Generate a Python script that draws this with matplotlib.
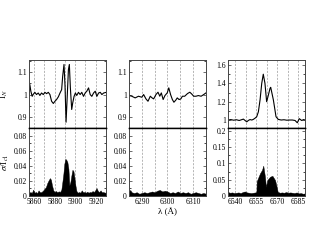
import matplotlib
matplotlib.use("Agg")
import matplotlib.pyplot as plt
from matplotlib.ticker import MultipleLocator, FuncFormatter

plt.rcParams['font.family'] = ['Liberation Serif', 'DejaVu Serif']
plt.rcParams['mathtext.fontset'] = 'stix'

# ---------------- data ----------------
# Panel 1 (Na D region)
wl1_top = [5855.1, 5855.8, 5856.8, 5858.1, 5859.0, 5860.7, 5862.3, 5864.0, 5865.6, 5867.2,
           5868.9, 5870.5, 5872.1, 5873.8, 5875.4, 5877.0, 5878.7, 5880.3, 5881.9, 5883.6,
           5885.2, 5886.8, 5887.8, 5889.1, 5890.1, 5891.1, 5892.1, 5893.4, 5894.3, 5895.3,
           5896.6, 5897.6, 5898.9, 5900.2, 5901.5, 5903.2, 5904.8, 5906.4, 5908.1, 5909.7,
           5911.3, 5913.0, 5914.6, 5916.2, 5917.9, 5919.5, 5921.1, 5922.8, 5924.4, 5926.0,
           5927.7, 5930.3]
in1 = [0.992, 1.045, 1.015, 0.992, 1.000, 1.010, 1.000, 1.007, 0.996, 1.007,
       1.000, 1.010, 1.004, 1.010, 1.000, 0.970, 0.960, 0.970, 0.978, 0.990,
       1.007, 1.022, 1.082, 1.135, 1.037, 0.876, 0.978, 1.112, 1.135, 1.030,
       0.933, 0.963, 0.992, 1.007, 0.996, 1.010, 1.000, 1.010, 0.992, 1.007,
       1.015, 1.030, 1.000, 0.992, 1.007, 1.015, 0.992, 1.007, 1.010, 1.000,
       1.007, 1.010]

wl1_bot = [5855.1, 5856.4, 5857.7, 5859.1, 5860.4, 5861.7, 5863.0, 5864.3, 5865.6, 5867.2,
           5868.9, 5870.2, 5871.5, 5872.8, 5874.1, 5875.4, 5876.4, 5877.4, 5878.7, 5880.0,
           5881.3, 5882.6, 5883.9, 5885.2, 5886.5, 5887.5, 5888.5, 5889.4, 5890.4, 5891.4,
           5892.4, 5893.4, 5894.3, 5895.3, 5896.3, 5897.3, 5898.3, 5899.2, 5900.2, 5901.2,
           5902.5, 5903.8, 5905.1, 5906.4, 5907.7, 5909.1, 5910.4, 5911.7, 5913.0, 5914.3,
           5915.6, 5916.9, 5918.2, 5919.5, 5920.8, 5922.1, 5923.4, 5924.7, 5926.0, 5927.4,
           5928.7, 5930.3]
sig1 = [0.0040, 0.0053, 0.0040, 0.0084, 0.0044, 0.0053, 0.0040, 0.0075, 0.0049, 0.0053,
        0.0075, 0.0097, 0.0119, 0.0171, 0.0207, 0.0237, 0.0215, 0.0141, 0.0075, 0.0053,
        0.0066, 0.0049, 0.0062, 0.0053, 0.0084, 0.0185, 0.0294, 0.0426, 0.0492, 0.0478,
        0.0448, 0.0360, 0.0141, 0.0185, 0.0272, 0.0347, 0.0329, 0.0250, 0.0141, 0.0066,
        0.0044, 0.0053, 0.0044, 0.0075, 0.0049, 0.0053, 0.0044, 0.0057, 0.0044, 0.0053,
        0.0049, 0.0066, 0.0053, 0.0075, 0.0106, 0.0066, 0.0053, 0.0075, 0.0049, 0.0053,
        0.0044, 0.0049]

# Panel 2 ([O I] 6300 region)
wl2_top = [6285.1, 6286.1, 6287.4, 6288.7, 6290.0, 6290.7, 6291.6, 6292.4, 6293.3, 6294.0,
           6294.6, 6295.5, 6296.3, 6297.0, 6297.6, 6298.3, 6299.0, 6299.9, 6300.5, 6301.2,
           6301.9, 6302.5, 6303.2, 6303.8, 6304.5, 6305.2, 6305.8, 6306.7, 6307.8, 6308.7,
           6309.4, 6310.2, 6311.1, 6312.0, 6313.1, 6314.1, 6315.0]
in2 = [0.9955, 0.9925, 0.985, 0.9925, 0.988, 1.000, 0.9806, 0.970, 0.9925, 0.985,
       0.9806, 1.000, 1.0105, 0.9925, 1.0075, 0.9776, 0.9955, 1.0075, 1.030, 1.000,
       0.9776, 0.9656, 0.9746, 0.985, 0.9776, 0.9806, 0.9925, 0.9925, 1.0045, 1.0105,
       1.003, 0.9925, 0.9925, 0.9955, 0.9925, 1.000, 1.0075]

wl2_bot = [6285.0, 6285.5, 6286.0, 6287.0, 6288.0, 6289.0, 6290.0, 6291.0, 6292.0, 6293.0,
           6294.0, 6295.0, 6296.0, 6297.0, 6298.0, 6299.0, 6300.0, 6301.0, 6302.0, 6303.0,
           6304.0, 6305.0, 6306.0, 6307.0, 6308.0, 6309.0, 6310.0, 6311.0, 6312.0, 6313.0,
           6314.0, 6315.0]
sig2 = [0.006, 0.008, 0.005, 0.004, 0.005, 0.003, 0.004, 0.005, 0.004, 0.005,
        0.006, 0.005, 0.007, 0.008, 0.006, 0.007, 0.006, 0.004, 0.005, 0.004,
        0.006, 0.004, 0.005, 0.004, 0.005, 0.003, 0.004, 0.005, 0.004, 0.003,
        0.004, 0.003]

# Panel 3 (H-alpha region)
wl3_top = [6535.2, 6537.0, 6539.0, 6541.0, 6543.0, 6545.0, 6546.0, 6547.2, 6548.4, 6549.5,
           6550.7, 6552.0, 6553.1, 6554.3, 6555.5, 6556.7, 6557.9, 6559.1, 6560.2, 6561.4,
           6562.6, 6563.8, 6565.0, 6565.5, 6567.4, 6569.3, 6570.9, 6573.0, 6575.0, 6577.0,
           6579.0, 6581.0, 6582.9, 6584.5, 6585.9, 6587.6, 6589.0, 6590.0]
in3 = [1.000, 1.005, 0.998, 1.003, 0.995, 1.005, 1.010, 0.995, 0.980, 0.995,
       1.005, 1.000, 1.007, 1.020, 1.036, 1.090, 1.220, 1.400, 1.500, 1.400,
       1.200, 1.270, 1.345, 1.357, 1.220, 1.036, 1.007, 1.000, 1.003, 0.998,
       1.000, 1.000, 0.995, 0.970, 1.015, 0.995, 1.005, 1.000]

wl3_bot = [6535.0, 6536.5, 6538.0, 6539.5, 6541.0, 6542.5, 6544.0, 6545.5, 6547.0, 6548.5,
           6550.0, 6551.5, 6553.0, 6554.5, 6555.3, 6555.5, 6557.9, 6559.3, 6560.2, 6561.4,
           6562.1, 6563.1, 6565.0, 6566.7, 6568.6, 6569.8, 6570.5, 6572.0, 6573.5, 6575.0,
           6576.5, 6578.0, 6579.5, 6581.0, 6582.5, 6584.0, 6585.5, 6587.0, 6588.5, 6590.0]
sig3 = [0.012, 0.010, 0.011, 0.009, 0.010, 0.011, 0.009, 0.012, 0.014, 0.011,
        0.010, 0.009, 0.010, 0.011, 0.012, 0.045, 0.070, 0.080, 0.093, 0.059,
        0.028, 0.049, 0.059, 0.062, 0.049, 0.028, 0.013, 0.010, 0.011, 0.010,
        0.012, 0.010, 0.011, 0.010, 0.009, 0.011, 0.008, 0.009, 0.007, 0.008]

# ---------------- styling/layout ----------------
panels = [
    dict(wt=wl1_top, it=in1, wb=wl1_bot, sb=sig1, xlim=(5855, 5930), xt=[5860, 5880, 5900, 5920],
         grid=[5860, 5870, 5880, 5890, 5900, 5910, 5920], ylim_t=(0.85, 1.155), yt_t=[0.9, 1.0, 1.1], ym_t=0.05,
         ylim_b=(0, 0.09), yt_b=[0, 0.02, 0.04, 0.06, 0.08], ym_b=0.01, left=29),
    dict(wt=wl2_top, it=in2, wb=wl2_bot, sb=sig2, xlim=(6285, 6315), xt=[6290, 6300, 6310],
         grid=[6290, 6295, 6300, 6305, 6310], ylim_t=(0.85, 1.155), yt_t=[0.9, 1.0, 1.1], ym_t=0.05,
         ylim_b=(0, 0.09), yt_b=[0, 0.02, 0.04, 0.06, 0.08], ym_b=0.01, left=129),
    dict(wt=wl3_top, it=in3, wb=wl3_bot, sb=sig3, xlim=(6535, 6590), xt=[6540, 6555, 6570, 6585],
         grid=[6540, 6547.5, 6555, 6562.5, 6570, 6577.5, 6585], ylim_t=(0.913, 1.655), yt_t=[1.0, 1.2, 1.4, 1.6], ym_t=0.1,
         ylim_b=(0, 0.2086), yt_b=[0, 0.05, 0.1, 0.15, 0.2], ym_b=0.025, left=228),
]

W, H = 317, 245
fig = plt.figure(figsize=(W / 100, H / 100), dpi=100)
fmt = FuncFormatter(lambda v, p: ('%g' % round(v, 4)))

for i, p in enumerate(panels):
    l = p['left'] / W
    w = 77 / W
    axt = fig.add_axes([l, 1 - 128 / H, w, 68 / H])
    axb = fig.add_axes([l, 1 - 196 / H, w, 68 / H])
    for ax in (axt, axb):
        ax.set_xlim(*p['xlim'])
        for g in p['grid']:
            ax.axvline(g, color='#999999', ls=(0, (3, 2)), lw=0.5, zorder=0)
        for s in ax.spines.values():
            s.set_color('#444444')
            s.set_linewidth(0.7)
        ax.tick_params(direction='in', labelsize=5.5, pad=1.5, length=2.5, width=0.5,
                       left=True, right=True, top=False, bottom=True, colors='#333333',
                       labelcolor='black')
        ax.tick_params(which='minor', direction='in', length=1.5, width=0.5, left=True, right=True,
                       top=False, bottom=False)
        ax.yaxis.set_major_formatter(fmt)
        ax.set_xticks(p['xt'])
    axt.plot(p['wt'], p['it'], color='black', lw=0.8)
    axt.set_ylim(*p['ylim_t'])
    axt.set_yticks(p['yt_t'])
    axt.yaxis.set_minor_locator(MultipleLocator(p['ym_t']))
    axt.tick_params(labelbottom=False, bottom=False)
    axt.spines['bottom'].set_color('black')
    axt.spines['bottom'].set_linewidth(1.0)

    axb.fill_between(p['wb'], 0, p['sb'], color='black', lw=0.3, zorder=2)
    axb.set_ylim(*p['ylim_b'])
    axb.set_yticks(p['yt_b'])
    axb.yaxis.set_minor_locator(MultipleLocator(p['ym_b']))
    axb.spines['top'].set_color('black')
    axb.spines['top'].set_linewidth(1.0)

    if i == 0:
        axt.set_ylabel('I$_N$', fontsize=6.5, labelpad=5)
        axb.set_ylabel(r'$\sigma$/I$_{c1}$', fontsize=6.5, labelpad=2)
    if i == 1:
        axb.set_xlabel('λ (Å)', fontsize=6.5, labelpad=1)

fig.savefig('out.png', dpi=100)
